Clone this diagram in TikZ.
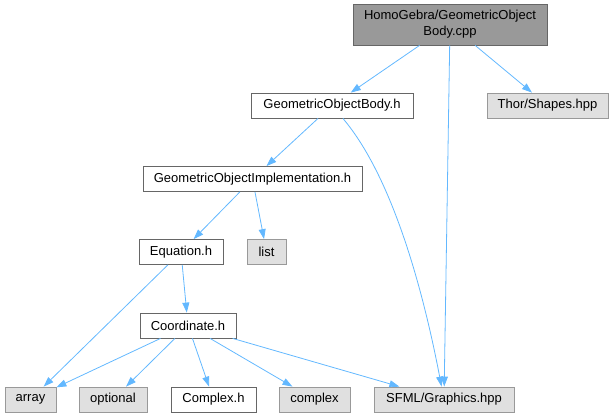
\documentclass[tikz,border=0pt]{standalone}
\usepackage{fontspec}
\setmainfont{Liberation Sans}
\usepackage{xcolor}
\usetikzlibrary{arrows.meta}
\definecolor{edgeblue}{HTML}{63B8FF}

\begin{document}
\begin{tikzpicture}[
    file/.style={draw=black!60, fill=white, inner sep=0pt,
                 minimum height=25, line width=0.8pt,
                 font=\fontsize{13}{16}\selectfont, align=center},
    mainfile/.style={file, fill=black!40, minimum height=41},
    sysfile/.style={file, draw=black!40, fill=black!12},
    dep/.style={-{Stealth[inset=0pt, length=10pt, width=7pt]},
                edgeblue, line width=0.8pt},
    x=1pt, y=-1pt
  ]
  \useasboundingbox (0,0) rectangle (613,417);

  \node[mainfile, minimum width=194] (cpp) at (450, 24.5)
    {HomoGebra/GeometricObject\\Body.cpp};
  \node[file, minimum width=162] (body) at (332, 105.5) {GeometricObjectBody.h};
  \node[sysfile, minimum width=121] (thor) at (547.5, 105.5) {Thor/Shapes.hpp};
  \node[file, minimum width=219] (impl) at (252.5, 179) {GeometricObjectImplementation.h};
  \node[file, minimum width=84] (eq) at (181, 252) {Equation.h};
  \node[sysfile, minimum width=39] (list) at (266.5, 252) {list};
  \node[file, minimum width=96] (coord) at (188, 325.5) {Coordinate.h};

  % bottom row
  \node[sysfile, minimum width=51] (array) at (30.5, 399.5) {array};
  \node[sysfile, minimum width=68] (opt) at (113, 399.5) {optional};
  \node[file, minimum width=85] (cplxh) at (213.5, 399.5) {Complex.h};
  \node[sysfile, minimum width=71] (cplx) at (314.5, 399.5) {complex};
  \node[sysfile, minimum width=140] (sfml) at (444, 399.5) {SFML/Graphics.hpp};

  \draw[dep] (cpp) -- (body);
  \draw[dep] (cpp) -- (sfml);
  \draw[dep] (cpp) -- (thor);
  \draw[dep] (body) -- (impl);
  \draw[dep] (body) .. controls (395, 180) and (425, 300) .. (sfml);
  \draw[dep] (impl) -- (eq);
  \draw[dep] (impl) -- (list);
  \draw[dep] (eq) -- (array);
  \draw[dep] (eq) -- (coord);
  \draw[dep] (coord) -- (array);
  \draw[dep] (coord) -- (opt);
  \draw[dep] (coord) -- (cplxh);
  \draw[dep] (coord) -- (cplx);
  \draw[dep] (coord) -- (sfml);
\end{tikzpicture}
\end{document}
